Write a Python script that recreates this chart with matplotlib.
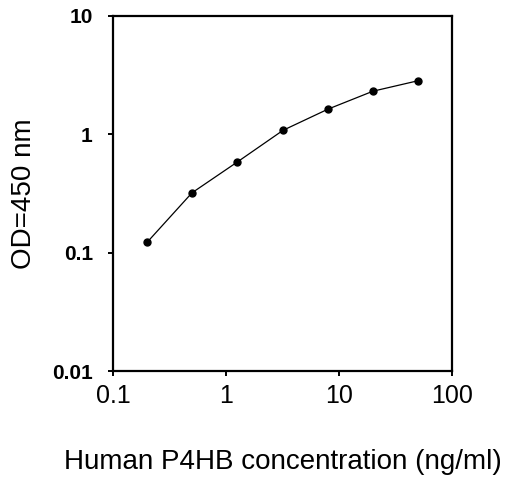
import matplotlib
matplotlib.use("Agg")
import matplotlib.pyplot as plt
from matplotlib.ticker import FixedLocator, FixedFormatter, NullLocator

# Standardkurve (ELISA)
konc = [0.2, 0.5, 1.25, 3.2, 8.0, 20.0, 50.0]
od = [0.122, 0.32, 0.58, 1.08, 1.63, 2.31, 2.83]

x_ticks = [0.1, 1, 10, 100]
x_labels = ["0.1", "1", "10", "100"]
y_ticks = [0.01, 0.1, 1, 10]
y_labels = ["0.01", "0.1", "1", "10"]

plt.rcParams['font.family'] = ['Liberation Sans', 'DejaVu Sans']

fig = plt.figure(figsize=(5.09, 4.8), dpi=100)
ax = fig.add_axes([0.222, 0.227, 0.666, 0.740])

ax.plot(konc, od, color="black", linewidth=0.9, marker="o",
        markersize=5, markerfacecolor="black", markeredgecolor="black")

ax.set_xscale("log")
ax.set_yscale("log")
ax.set_xlim(0.1, 100)
ax.set_ylim(0.01, 10)

ax.xaxis.set_major_locator(FixedLocator(x_ticks))
ax.xaxis.set_major_formatter(FixedFormatter(x_labels))
ax.xaxis.set_minor_locator(NullLocator())
ax.yaxis.set_major_locator(FixedLocator(y_ticks))
ax.yaxis.set_major_formatter(FixedFormatter(y_labels))
ax.yaxis.set_minor_locator(NullLocator())

for s in ax.spines.values():
    s.set_linewidth(1.6)

ax.tick_params(axis="both", direction="out", length=3.5, width=1.4)
ax.tick_params(axis="x", labelsize=18, pad=6)
ax.tick_params(axis="y", labelsize=15, pad=11)
for t in ax.get_yticklabels():
    t.set_fontweight("bold")

ax.set_xlabel("Human P4HB concentration (ng/ml)", fontsize=20, va="center")
ax.xaxis.set_label_coords(0.5, -0.256)
ax.set_ylabel("OD=450 nm", fontsize=20, va="center")
ax.yaxis.set_label_coords(-0.263, 0.5)

fig.savefig("out.png", dpi=100)
